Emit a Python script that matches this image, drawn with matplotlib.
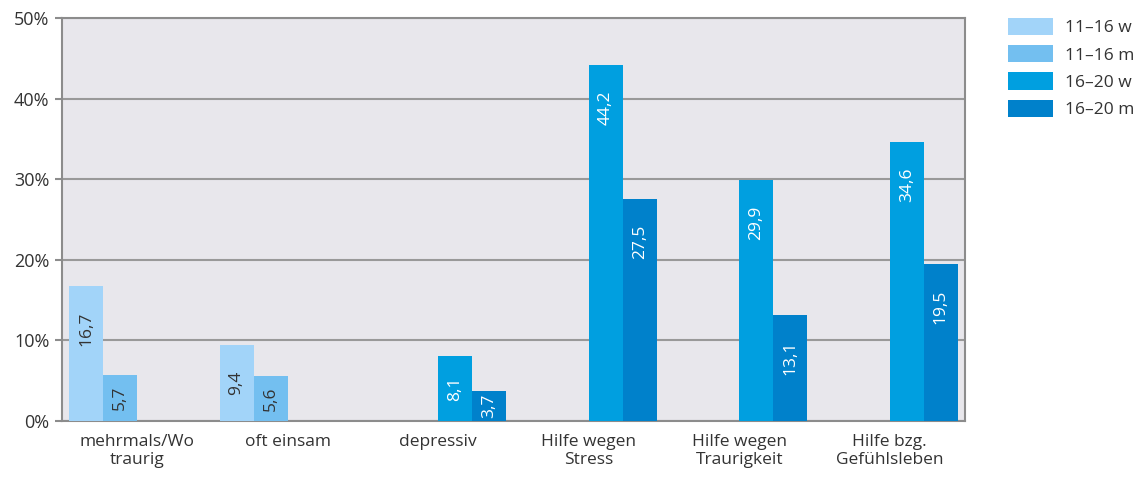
import numpy as np
import matplotlib
matplotlib.use("Agg")
import matplotlib.pyplot as plt

plt.rcParams['font.family'] = ['Open Sans', 'DejaVu Sans']

categories = ['mehrmals/Wo\ntraurig', 'oft einsam', 'depressiv',
              'Hilfe wegen\nStress', 'Hilfe wegen\nTraurigkeit', 'Hilfe bzg.\nGefühlsleben']
series = ['11–16 w', '11–16 m', '16–20 w', '16–20 m']
w_11_16 = [16.7, 9.4, np.nan, np.nan, np.nan, np.nan]
m_11_16 = [5.7, 5.6, np.nan, np.nan, np.nan, np.nan]
w_16_20 = [np.nan, np.nan, 8.1, 44.2, 29.9, 34.6]
m_16_20 = [np.nan, np.nan, 3.7, 27.5, 13.1, 19.5]

colors = ['#a2d4f9', '#73bff0', '#009fe0', '#0081cb']
label_colors = ['#333333', '#333333', 'white', 'white']

fig = plt.figure(figsize=(11.37, 4.78), dpi=100)
ax = fig.add_axes([62/1137, 57/478, 903/1137, 403/478])
ax.set_facecolor('#e8e7ec')

x = np.arange(len(categories))
bw = 0.2266
all_vals = [w_11_16, m_11_16, w_16_20, m_16_20]
for i, vals in enumerate(all_vals):
    pos = x - 2*bw + bw/2 + i*bw
    ax.bar(pos, vals, width=bw, color=colors[i], label=series[i], zorder=3)
    for p, v in zip(pos, vals):
        if np.isnan(v):
            continue
        ytxt = max(v - 5.3, v/2)
        ax.text(p, ytxt, f'{v:.1f}'.replace('.', ','), rotation=90,
                ha='center', va='center', fontsize=12.5, color=label_colors[i], zorder=4)

ax.set_ylim(0, 50)
ax.set_xlim(-0.5, len(categories) - 0.5)
ax.set_yticks([0, 10, 20, 30, 40, 50])
ax.set_yticklabels([f'{t}%' for t in range(0, 60, 10)], fontsize=13, color='#333333')
ax.set_xticks(x)
ax.set_xticklabels(categories, fontsize=12.5, color='#333333', linespacing=1.25)
ax.tick_params(axis='x', length=0, pad=9)
ax.tick_params(axis='y', length=5, width=1.5, color='#8c8c8c', pad=4)
ax.yaxis.grid(True, color='#999999', linewidth=1.5, zorder=1)
for s in ax.spines.values():
    s.set_color('#8c8c8c')
    s.set_linewidth(1.5)

ax.legend(loc='upper left', bbox_to_anchor=(1008/1137, 1 - 18/478),
          bbox_transform=fig.transFigure, frameon=False, fontsize=12.5,
          handlelength=2.6, handleheight=1.15, handletextpad=0.7,
          labelspacing=0.5, borderpad=0, borderaxespad=0, labelcolor='#333333')

fig.savefig('out.png', dpi=100)
